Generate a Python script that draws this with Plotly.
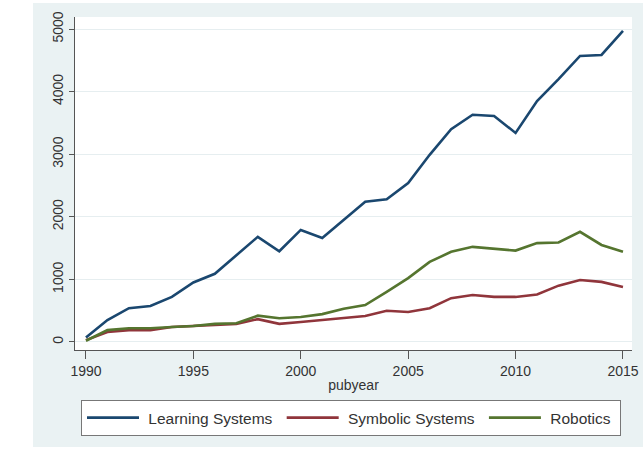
import plotly.graph_objects as go

years = list(range(1990, 2016))
learning = [70, 350, 540, 575, 720, 950, 1090, 1390, 1680, 1450, 1790, 1660, 1950, 2240, 2280, 2540,
            2990, 3400, 3630, 3610, 3340, 3850, 4200, 4570, 4585, 4970]
symbolic = [30, 160, 190, 190, 240, 255, 280, 290, 365, 290, 320, 350, 380, 415, 500, 480,
            540, 700, 750, 720, 720, 760, 900, 990, 960, 880]
robotics = [20, 190, 220, 220, 240, 255, 290, 300, 420, 380, 400, 445, 530, 590, 800, 1020,
            1280, 1440, 1520, 1490, 1460, 1580, 1590, 1760, 1550, 1440]
series_names = ["Learning Systems", "Symbolic Systems", "Robotics"]
colors = ["#1a476f", "#90353b", "#55752f"]
y_ticks = [0, 1000, 2000, 3000, 4000, 5000]
x_ticks = [1990, 1995, 2000, 2005, 2010, 2015]

fig = go.Figure()
for name, vals, col in zip(series_names, [learning, symbolic, robotics], colors):
    fig.add_trace(go.Scatter(x=years, y=vals, mode="lines", name="\u00a0" + name + "\u00a0",
                             line=dict(color=col, width=2.6)))

W, H = 643, 451
L, R, T, B = 75, 11, 17, 101
pw, ph = W - L - R, H - T - B

def px_x(x):
    return (x - L) / pw

def px_y(y):
    return (H - B - y) / ph

shapes = [
    dict(type="rect", xref="paper", yref="paper", x0=px_x(0), x1=px_x(33), y0=px_y(H), y1=px_y(0),
         fillcolor="white", line=dict(width=0), layer="below"),
    dict(type="rect", xref="paper", yref="paper", x0=px_x(33), x1=px_x(W), y0=px_y(3), y1=px_y(0),
         fillcolor="white", line=dict(width=0), layer="below"),
    dict(type="rect", xref="paper", yref="paper", x0=px_x(33), x1=px_x(W), y0=px_y(H), y1=px_y(447),
         fillcolor="white", line=dict(width=0), layer="below"),
]

fig.update_layout(
    width=W, height=H,
    margin=dict(l=L, r=R, t=T, b=B, pad=0, autoexpand=False),
    paper_bgcolor="#eaf2f3",
    plot_bgcolor="white",
    font=dict(family="Liberation Sans, Arial, sans-serif", color="#333333", size=14),
    shapes=shapes,
    showlegend=True,
    legend=dict(orientation="h", x=px_x(81), y=px_y(400), xanchor="left", yanchor="top",
                bgcolor="white", bordercolor="#777777", borderwidth=1,
                font=dict(size=15.5, color="#333333"), itemwidth=52,
                traceorder="normal"),
    xaxis=dict(range=[1989.49, 2015.42], tickvals=x_ticks, ticks="outside", ticklen=8,
               tickcolor="#555555", showline=True, linecolor="#555555", linewidth=1,
               showgrid=False, zeroline=False, tickfont=dict(size=14),
               title=dict(text="pubyear", font=dict(size=14), standoff=2)),
    yaxis=dict(range=[-128, 5192], tickvals=y_ticks, ticks="outside", ticklen=5,
               tickcolor="#555555", showline=True, linecolor="#555555", linewidth=1,
               showgrid=True, gridcolor="#e6eef0", gridwidth=1, zeroline=False,
               tickangle=-90, tickfont=dict(size=14)),
)

fig.write_html("out.html")
